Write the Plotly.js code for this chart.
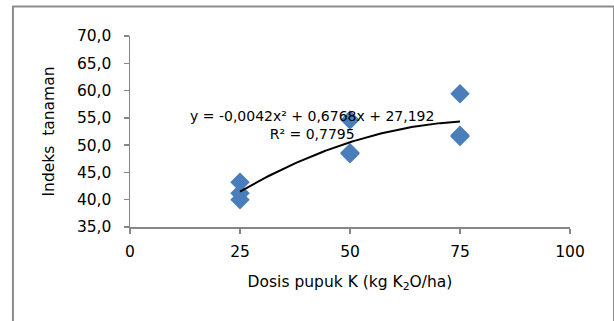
<!DOCTYPE html>
<html>
<head>
<meta charset="utf-8">
<script src="https://cdn.plot.ly/plotly-3.0.1.min.js"></script>
<style>html,body{margin:0;padding:0;background:#fff;}#chart{width:614px;height:321px;}</style>
</head>
<body>
<div id="chart"></div>
<script>
// Observed data (dose of K, plant index)
var dosis = [25, 25, 25, 50, 50, 50, 75, 75, 75];
var indeks = [43.2, 41.2, 40.0, 54.6, 48.4, 48.6, 59.4, 51.6, 51.8];

// Polynomial trendline coefficients as printed on the chart: a*x^2 + b*x + c
var trendCoef = [-0.0042, 0.6768, 27.192];
var trendRange = [25, 75];

var xTicks = [0, 25, 50, 75, 100];
var yTicks = [35, 40, 45, 50, 55, 60, 65, 70];
var yTickText = ["35,0", "40,0", "45,0", "50,0", "55,0", "60,0", "65,0", "70,0"];

var eqText = "y = -0,0042x² + 0,6768x + 27,192<br>R² = 0,7795";

var tx = [], ty = [];
for (var x = trendRange[0]; x <= trendRange[1]; x += 0.5) {
  tx.push(x);
  ty.push(trendCoef[0] * x * x + trendCoef[1] * x + trendCoef[2]);
}

var font = "DejaVu Sans, Verdana, sans-serif";
var data = [
  {
    x: dosis, y: indeks, type: "scatter", mode: "markers",
    marker: {symbol: "diamond", size: 15, color: "#4A7EBB", line: {width: 0}},
    hoverinfo: "none", cliponaxis: false
  },
  {
    x: tx, y: ty, type: "scatter", mode: "lines",
    line: {color: "#000000", width: 2},
    hoverinfo: "none"
  }
];

var axisLine = "#868686";
var layout = {
  width: 614, height: 321,
  margin: {l: 130, r: 44, t: 36, b: 94},
  paper_bgcolor: "#ffffff", plot_bgcolor: "#ffffff",
  showlegend: false,
  font: {family: font, size: 15, color: "#000000"},
  xaxis: {
    range: [0, 100], tickvals: xTicks, ticktext: xTicks.map(String),
    showgrid: false, zeroline: false, showline: true, linecolor: axisLine, linewidth: 1.5,
    ticks: "outside", ticklen: 5, tickcolor: axisLine, tickwidth: 1.5,
    ticklabelstandoff: 5,
    tickfont: {family: font, size: 15.5, color: "#000"},
    title: {text: "Dosis pupuk K (kg K<sub>2</sub>O/ha)", font: {family: font, size: 15.5, color: "#000"}, standoff: 16}
  },
  yaxis: {
    range: [35, 70], tickvals: yTicks, ticktext: yTickText,
    showgrid: false, zeroline: false, showline: true, linecolor: axisLine, linewidth: 1.5,
    ticks: "outside", ticklen: 5, tickcolor: axisLine, tickwidth: 1.5,
    ticklabelstandoff: 9,
    tickfont: {family: font, size: 15.5, color: "#000"},
    title: {text: "Indeks  tanaman", font: {family: font, size: 15.5, color: "#000"}, standoff: 18}
  },
  annotations: [{
    x: 41.4, y: 53.7, xref: "x", yref: "y", text: eqText, showarrow: false,
    align: "center", font: {family: font, size: 14, color: "#000"}
  }],
  shapes: [{
    type: "rect", xref: "paper", yref: "paper",
    x0: -0.266, x1: 1.1, y0: -0.6, y1: 1.155,
    line: {color: "#8C8C8C", width: 2}, fillcolor: "rgba(0,0,0,0)", layer: "below"
  }]
};

Plotly.newPlot("chart", data, layout, {staticPlot: true, displayModeBar: false});
</script>
</body>
</html>
